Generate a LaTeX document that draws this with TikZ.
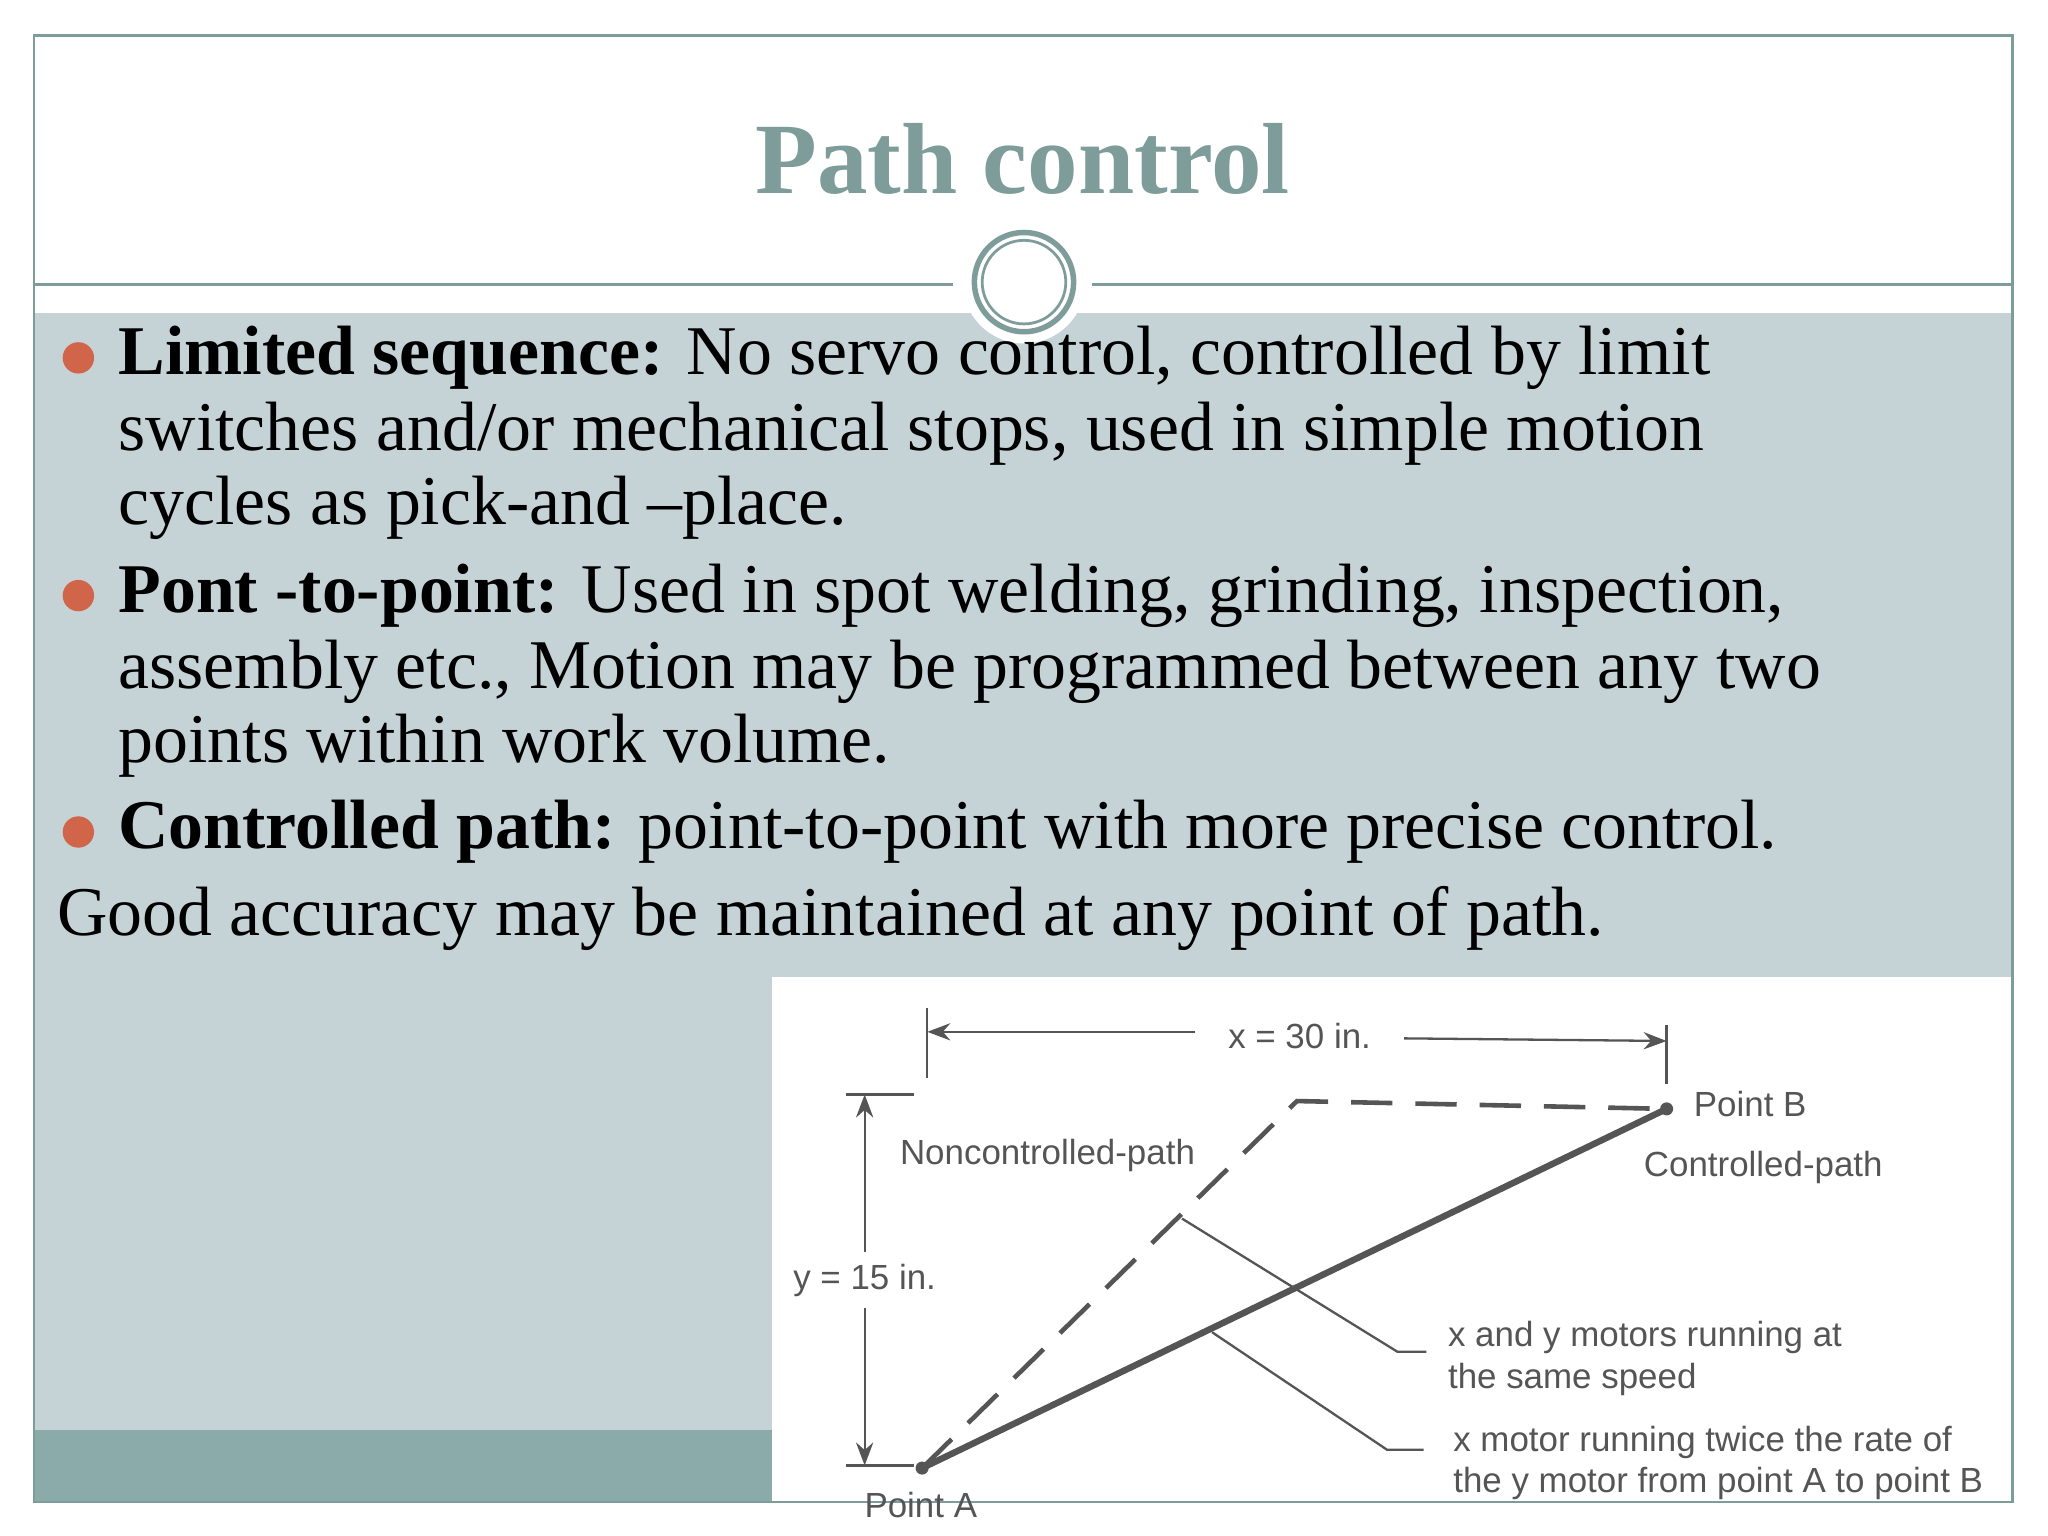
\documentclass[tikz,border=0pt]{standalone}
\usepackage{fontspec}
\setmainfont{Liberation Serif}
\newfontfamily\dsans{Liberation Sans}
\usetikzlibrary{arrows.meta}
\definecolor{teal}{HTML}{7E9C9A}
\definecolor{bgc}{HTML}{C5D3D7}
\definecolor{band}{HTML}{8BAAAA}
\definecolor{bul}{HTML}{D0654A}
\definecolor{dg}{HTML}{555555}
\tikzset{
 line/.style={anchor=west,inner sep=0,font=\fontsize{15.2}{18}\selectfont},
 lab/.style={inner sep=0,font=\dsans\fontsize{7.6}{9}\selectfont,text=dg},
 labl/.style={lab,anchor=west},
 dim/.style={dg,line width=0.5pt},
 bullet/.style={circle,fill=bul,minimum size=0.24cm,inner sep=0}
}
\begin{document}
\begin{tikzpicture}[x=0.01cm,y=-0.01cm]
\useasboundingbox (0,0) rectangle (1568,1176);
\fill[white] (0,0) rectangle (1568,1176);
\fill[bgc] (26,240) rectangle (1541,1150);
\fill[band] (26,1095) rectangle (1541,1150);
\fill[white] (591,748) rectangle (1541,1150);
\draw[teal,line width=0.6pt] (26,27) rectangle (1541,1150);
\draw[teal,line width=0.6pt] (26,218) -- (730,218) (836,218) -- (1541,218);
\fill[white] (784,216) circle (47);
\draw[teal,line width=1.2pt] (784,216) circle (38);
\draw[teal,line width=0.6pt] (784,216) circle (32);
\node[text=teal,font=\bfseries\fontsize{22}{26}\selectfont] (title) at (783,122) {Path control};
% bullets
\node[bullet] (b1) at (60,274) {};
\node[bullet] (b2) at (60,456) {};
\node[bullet] (b3) at (60,637) {};
\node[line] (l1) at (90,274) {\textbf{Limited sequence:} No servo control, controlled by limit};
\node[line] (l2) at (90,332) {switches and/or mechanical stops, used in simple motion};
\node[line] (l3) at (90,389) {cycles as pick-and --place.};
\node[line] (l4) at (90,456) {\textbf{Pont -to-point:} Used in spot welding, grinding, inspection,};
\node[line] (l5) at (90,514) {assembly etc., Motion may be programmed between any two};
\node[line] (l6) at (90,571) {points within work volume.};
\node[line] (l7) at (90,637) {\textbf{Controlled path:} point-to-point with more precise control.};
\node[line] (l8) at (43,703) {Good accuracy may be maintained at any point of path.};
% diagram
\coordinate (A) at (706,1124);
\coordinate (B) at (1276,849);
\coordinate (K) at (993,843);
\draw[dg,line width=1.4pt] (A) -- (B);
\draw[dg,line width=1pt,dash pattern=on 9pt off 5pt] (A) -- (K) -- (B);
\fill[dg] (A) circle (5) (B) circle (5);
% x dimension
\draw[dim] (710,772) -- (710,825) (1276,785) -- (1276,830);
\node[lab] (xl) at (995,793) {x = 30 in.};
\draw[dim,-{Stealth[length=5pt]}] (915,790) -- (710,790);
\draw[dim,-{Stealth[length=5pt]}] (1075,795) -- (1276,797);
% y dimension
\draw[dim] (648,838) -- (700,838) (648,1122) -- (700,1122);
\node[lab] (yl) at (662,980) {y = 15 in.};
\draw[dim,-{Stealth[length=5pt]}] (yl.north) ++(0,-8) -- (662,838);
\draw[dim,-{Stealth[length=5pt]}] (yl.south) ++(0,8) -- (662,1122);
\node[lab] (nc) at (802,885) {Noncontrolled-path};
\node[lab] (pb) at (1340,845) {Point B};
\node[lab] (cp) at (1350,894) {Controlled-path};
\node[lab] (pa) at (705,1152) {Point A};
\node[labl,align=left] (m1) at (1108,1040) {x and y motors running at\\the same speed};
\node[labl,align=left] (m2) at (1112,1120) {x motor running twice the rate of\\the y motor from point A to point B};
\coordinate (p1) at (905,933);
\coordinate (p2) at (928,1020);
\draw[dim] (p1) -- (1070,1035) -- (1092,1035);
\draw[dim] (p2) -- (1062,1110) -- (1090,1110);
\end{tikzpicture}
\end{document}
